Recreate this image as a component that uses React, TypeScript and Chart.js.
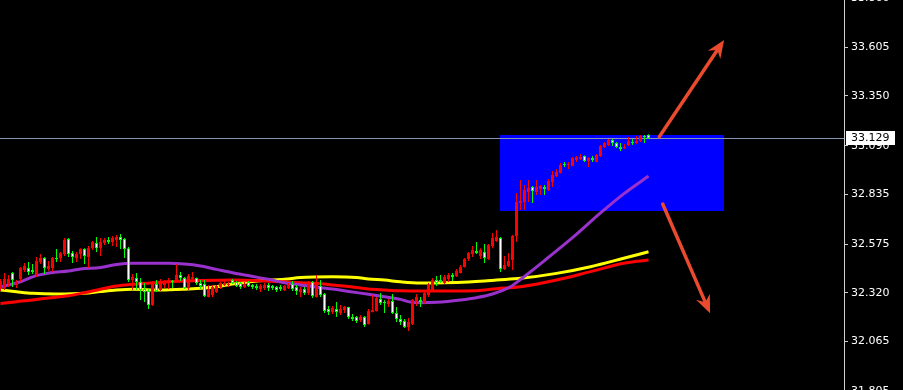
import React, { useEffect, useRef } from "react";
import { Chart, registerables } from "chart.js";

Chart.register(...registerables);

// Bar prices (one entry per bar, oldest first)
const OPEN = [
  32.345, 32.345, 32.366, 32.424, 32.361, 32.393, 32.44, 32.45, 32.44, 32.414,
  32.482, 32.502, 32.445, 32.45, 32.502, 32.502, 32.523, 32.602, 32.528, 32.502,
  32.523, 32.549, 32.508, 32.554, 32.581, 32.554, 32.581, 32.597, 32.586, 32.597,
  32.612, 32.602, 32.554, 32.387, 32.398, 32.377, 32.34, 32.33, 32.257, 32.366,
  32.335, 32.361, 32.372, 32.382, 32.387, 32.414, 32.398, 32.345, 32.393, 32.398,
  32.372, 32.366, 32.299, 32.309, 32.324, 32.351, 32.361, 32.361, 32.387, 32.377,
  32.372, 32.351, 32.377, 32.361, 32.356, 32.34, 32.345, 32.361, 32.356, 32.351,
  32.351, 32.335, 32.345, 32.366, 32.351, 32.324, 32.34, 32.319, 32.377, 32.299,
  32.356, 32.314, 32.236, 32.22, 32.236, 32.215, 32.23, 32.246, 32.194, 32.194,
  32.178, 32.194, 32.157, 32.22, 32.225, 32.288, 32.272, 32.262, 32.278, 32.215,
  32.183, 32.173, 32.141, 32.157, 32.272, 32.283, 32.267, 32.309, 32.335, 32.387,
  32.387, 32.372, 32.393, 32.414, 32.408, 32.424, 32.455, 32.497, 32.523, 32.539,
  32.513, 32.534, 32.497, 32.565, 32.591, 32.607, 32.445, 32.461, 32.492, 32.617,
  32.79, 32.795, 32.848, 32.874, 32.848, 32.863, 32.874, 32.858, 32.9, 32.931,
  32.947, 32.994, 32.989, 32.984, 33.015, 33.02, 33.036, 33.01, 33.026, 33.005,
  33.036, 33.083, 33.093, 33.12, 33.104, 33.083, 33.078, 33.093, 33.109, 33.104,
  33.114, 33.141, 33.146,
];
const HIGH = [
  32.393, 32.424, 32.414, 32.429, 32.387, 32.455, 32.476, 32.482, 32.471, 32.508,
  32.523, 32.508, 32.487, 32.508, 32.549, 32.534, 32.607, 32.607, 32.539, 32.534,
  32.554, 32.554, 32.565, 32.591, 32.612, 32.607, 32.607, 32.612, 32.617, 32.623,
  32.628, 32.607, 32.56, 32.419, 32.424, 32.398, 32.372, 32.34, 32.382, 32.387,
  32.393, 32.387, 32.398, 32.387, 32.471, 32.429, 32.403, 32.419, 32.429, 32.4,
  32.387, 32.387, 32.361, 32.361, 32.361, 32.377, 32.382, 32.377, 32.393, 32.382,
  32.377, 32.377, 32.382, 32.366, 32.366, 32.366, 32.372, 32.372, 32.361, 32.356,
  32.361, 32.361, 32.372, 32.382, 32.361, 32.351, 32.351, 32.382, 32.382, 32.414,
  32.387, 32.319, 32.252, 32.252, 32.272, 32.257, 32.252, 32.248, 32.21, 32.199,
  32.204, 32.199, 32.236, 32.309, 32.299, 32.319, 32.283, 32.288, 32.314, 32.246,
  32.204, 32.183, 32.189, 32.288, 32.314, 32.299, 32.324, 32.372, 32.398, 32.408,
  32.414, 32.414, 32.424, 32.424, 32.445, 32.466, 32.502, 32.534, 32.565, 32.586,
  32.554, 32.576, 32.576, 32.633, 32.649, 32.612, 32.513, 32.528, 32.623, 32.842,
  32.91, 32.884, 32.91, 32.879, 32.91, 32.884, 32.884, 32.916, 32.957, 32.968,
  32.999, 33.005, 33.005, 33.031, 33.036, 33.046, 33.038, 33.028, 33.036, 33.046,
  33.093, 33.109, 33.125, 33.125, 33.109, 33.104, 33.099, 33.135, 33.125, 33.141,
  33.146, 33.146, 33.15,
];
const LOW = [
  32.33, 32.335, 32.351, 32.351, 32.345, 32.377, 32.429, 32.414, 32.419, 32.403,
  32.471, 32.419, 32.435, 32.429, 32.482, 32.482, 32.513, 32.508, 32.476, 32.482,
  32.497, 32.471, 32.45, 32.544, 32.534, 32.513, 32.57, 32.576, 32.565, 32.56,
  32.549, 32.502, 32.377, 32.335, 32.335, 32.283, 32.272, 32.236, 32.252, 32.324,
  32.33, 32.345, 32.34, 32.345, 32.382, 32.382, 32.34, 32.335, 32.377, 32.361,
  32.34, 32.299, 32.296, 32.299, 32.319, 32.34, 32.356, 32.351, 32.366, 32.351,
  32.34, 32.345, 32.351, 32.34, 32.335, 32.324, 32.335, 32.33, 32.335, 32.324,
  32.33, 32.33, 32.34, 32.33, 32.309, 32.299, 32.309, 32.309, 32.293, 32.296,
  32.299, 32.215, 32.204, 32.21, 32.194, 32.204, 32.215, 32.183, 32.173, 32.162,
  32.168, 32.141, 32.155, 32.218, 32.222, 32.257, 32.215, 32.246, 32.21, 32.168,
  32.152, 32.136, 32.12, 32.152, 32.252, 32.246, 32.265, 32.299, 32.33, 32.356,
  32.372, 32.366, 32.377, 32.382, 32.403, 32.422, 32.453, 32.487, 32.508, 32.523,
  32.497, 32.476, 32.492, 32.554, 32.586, 32.429, 32.44, 32.455, 32.44, 32.586,
  32.753, 32.753, 32.795, 32.79, 32.832, 32.832, 32.832, 32.853, 32.874, 32.926,
  32.945, 32.978, 32.968, 32.982, 33.005, 33.015, 33.005, 32.978, 33.005, 33.003,
  33.031, 33.078, 33.088, 33.088, 33.078, 33.062, 33.073, 33.088, 33.093, 33.099,
  33.109, 33.104, 33.125,
];
const CLOSE = [
  32.382, 32.393, 32.393, 32.387, 32.377, 32.45, 32.461, 32.429, 32.429, 32.487,
  32.502, 32.45, 32.461, 32.502, 32.497, 32.528, 32.597, 32.523, 32.508, 32.523,
  32.549, 32.513, 32.554, 32.586, 32.554, 32.586, 32.597, 32.586, 32.607, 32.612,
  32.597, 32.549, 32.387, 32.403, 32.377, 32.335, 32.324, 32.257, 32.372, 32.33,
  32.372, 32.372, 32.387, 32.377, 32.414, 32.398, 32.345, 32.408, 32.403, 32.372,
  32.356, 32.304, 32.34, 32.351, 32.356, 32.372, 32.372, 32.366, 32.372, 32.356,
  32.351, 32.366, 32.356, 32.351, 32.345, 32.356, 32.361, 32.345, 32.345, 32.335,
  32.34, 32.356, 32.361, 32.34, 32.33, 32.34, 32.319, 32.377, 32.304, 32.372,
  32.309, 32.225, 32.22, 32.241, 32.22, 32.236, 32.246, 32.194, 32.183, 32.173,
  32.194, 32.152, 32.225, 32.23, 32.293, 32.267, 32.266, 32.278, 32.215, 32.183,
  32.168, 32.141, 32.168, 32.283, 32.299, 32.272, 32.319, 32.361, 32.387, 32.372,
  32.377, 32.403, 32.414, 32.403, 32.435, 32.455, 32.497, 32.528, 32.544, 32.528,
  32.544, 32.502, 32.57, 32.607, 32.612, 32.445, 32.466, 32.487, 32.617, 32.795,
  32.801, 32.858, 32.869, 32.853, 32.874, 32.879, 32.863, 32.905, 32.937, 32.952,
  32.989, 32.989, 32.994, 33.026, 33.031, 33.031, 33.01, 33.026, 33.015, 33.041,
  33.088, 33.104, 33.12, 33.104, 33.083, 33.073, 33.083, 33.114, 33.104, 33.114,
  33.141, 33.135, 33.129,
];

// Moving averages, sampled at bar positions
const PURPLE_MA_X = [
  0, 5, 8, 12.5, 17, 20, 25, 29, 33, 42, 46, 50, 54, 58, 62.5, 67, 71, 75, 83,
  87.5, 92, 96, 100, 102.5, 105, 109, 115, 119, 123, 127.5, 130, 136.7, 143.3,
  150, 155.8, 162,
];
const PURPLE_MA = [
  32.352, 32.378, 32.404, 32.425, 32.434, 32.445, 32.453, 32.469, 32.475, 32.475,
  32.471, 32.461, 32.443, 32.425, 32.408, 32.391, 32.373, 32.361, 32.34, 32.326,
  32.313, 32.3, 32.286, 32.272, 32.269, 32.271, 32.283, 32.295, 32.314, 32.352,
  32.39, 32.501, 32.614, 32.738, 32.838, 32.931,
];
const YELLOW_MA_X = [
  0, 4, 8, 14, 21, 25, 29, 33, 40, 46, 50, 54, 58, 65, 71, 75, 83, 89, 92, 96,
  100, 105, 111, 117, 121, 124, 130, 139, 147.5, 155.8, 162,
];
const YELLOW_MA = [
  32.335, 32.326, 32.318, 32.314, 32.318, 32.327, 32.335, 32.339, 32.335, 32.339,
  32.344, 32.352, 32.366, 32.384, 32.391, 32.401, 32.405, 32.401, 32.393, 32.387,
  32.378, 32.372, 32.373, 32.377, 32.382, 32.387, 32.396, 32.422, 32.457, 32.501,
  32.535,
];
const RED_MA_X = [
  0, 4, 8, 12.5, 17, 21, 25, 29, 33, 37.5, 42, 46, 50, 58, 65, 71, 75, 79, 83,
  87.5, 92, 96, 100, 105, 111, 119, 124, 130, 139, 147.5, 155.8, 162,
];
const RED_MA = [
  32.265, 32.274, 32.283, 32.295, 32.305, 32.321, 32.339, 32.356, 32.365, 32.372,
  32.378, 32.382, 32.385, 32.387, 32.384, 32.378, 32.373, 32.37, 32.361, 32.352,
  32.34, 32.335, 32.331, 32.33, 32.33, 32.331, 32.342, 32.352, 32.387, 32.431,
  32.475, 32.492,
];

const PRICE_TICKS = [33.86, 33.605, 33.35, 33.09, 32.835, 32.575, 32.32, 32.065, 31.805];
const PRICE_MIN = 31.812;
const PRICE_MAX = 33.852;
const SLOT_MIN = -0.125;
const SLOT_MAX = 210.875;
const LAST_PRICE = 33.129;

// Highlighted range box (bar index span, price span)
const ZONE_FROM = 124.9;
const ZONE_TO = 180.9;
const ZONE_HIGH = 33.146;
const ZONE_LOW = 32.749;

// Scenario arrows: [fromIndex, fromPrice, toIndex, toPrice]
const ARROW_UP = [164.7, 33.137, 180.9, 33.643];
const ARROW_DOWN = [165.55, 32.785, 177.4, 32.213];

const BULL = "#ff0000";
const BEAR_EDGE = "#00ff00";
const BEAR_FILL = "#ffffff";
const FONT = "DejaVu Sans";

const isBull = (i: number) => CLOSE[i] >= OPEN[i];

function drawArrow(ctx: CanvasRenderingContext2D, x0: number, y0: number, x1: number, y1: number) {
  const dx = x1 - x0;
  const dy = y1 - y0;
  const len = Math.hypot(dx, dy);
  const ux = dx / len;
  const uy = dy / len;
  const nx = -uy;
  const ny = ux;
  const headLen = 18;
  const headHalf = 7.5;
  const notch = 12;
  ctx.strokeStyle = "#ea4a2e";
  ctx.fillStyle = "#ea4a2e";
  ctx.lineWidth = 3.5;
  ctx.lineCap = "round";
  ctx.beginPath();
  ctx.moveTo(x0, y0);
  ctx.lineTo(x1 - ux * (notch + 1), y1 - uy * (notch + 1));
  ctx.stroke();
  ctx.beginPath();
  ctx.moveTo(x1, y1);
  ctx.lineTo(x1 - ux * headLen + nx * headHalf, y1 - uy * headLen + ny * headHalf);
  ctx.lineTo(x1 - ux * notch, y1 - uy * notch);
  ctx.lineTo(x1 - ux * headLen - nx * headHalf, y1 - uy * headLen - ny * headHalf);
  ctx.closePath();
  ctx.fill();
}

const overlayPlugin = {
  id: "overlay",
  beforeDatasetsDraw(chart: any) {
    const { ctx, chartArea: a, scales } = chart;
    const xs = scales.x;
    const ys = scales.y;
    ctx.save();
    ctx.beginPath();
    ctx.rect(a.left, a.top, a.right - a.left, a.bottom - a.top);
    ctx.clip();
    const zx0 = Math.round(xs.getPixelForValue(ZONE_FROM));
    const zx1 = Math.round(xs.getPixelForValue(ZONE_TO));
    const zy0 = Math.round(ys.getPixelForValue(ZONE_HIGH));
    const zy1 = Math.round(ys.getPixelForValue(ZONE_LOW));
    ctx.fillStyle = "#0000ff";
    ctx.fillRect(zx0, zy0, zx1 - zx0, zy1 - zy0);
    const py = Math.round(ys.getPixelForValue(LAST_PRICE)) + 0.5;
    ctx.strokeStyle = "#8796b0";
    ctx.lineWidth = 1;
    ctx.beginPath();
    ctx.moveTo(a.left, py);
    ctx.lineTo(a.right, py);
    ctx.stroke();
    ctx.restore();
  },
  afterDatasetsDraw(chart: any) {
    const { ctx, scales } = chart;
    const xs = scales.x;
    const ys = scales.y;
    ctx.save();
    for (const [i0, p0, i1, p1] of [ARROW_UP, ARROW_DOWN]) {
      drawArrow(
        ctx,
        xs.getPixelForValue(i0),
        ys.getPixelForValue(p0),
        xs.getPixelForValue(i1),
        ys.getPixelForValue(p1)
      );
    }
    ctx.restore();
  },
  afterDraw(chart: any) {
    const { ctx, chartArea: a, scales } = chart;
    const py = Math.round(scales.y.getPixelForValue(LAST_PRICE));
    ctx.save();
    ctx.fillStyle = "#ffffff";
    ctx.fillRect(a.right + 2, py - 7, 49, 14);
    ctx.fillStyle = "#000000";
    ctx.font = `11px "${FONT}"`;
    ctx.textBaseline = "middle";
    ctx.textAlign = "left";
    ctx.fillText(LAST_PRICE.toFixed(3), a.right + 7, py + 0.5);
    ctx.restore();
  },
};

export default function App() {
  const canvasRef = useRef<HTMLCanvasElement | null>(null);

  useEffect(() => {
    document.body.style.margin = "0";
    document.body.style.background = "#000";
    const canvas = canvasRef.current;
    if (!canvas) return;

    const bodies = OPEN.map((o, i) => ({ x: i, y: [o, CLOSE[i]] }));
    const wicks = OPEN.map((_, i) => ({ x: i, y: [LOW[i], HIGH[i]] }));
    const line = (xs: number[], ys: number[]) => xs.map((x, i) => ({ x, y: ys[i] }));

    const chart = new Chart(canvas, {
      type: "bar",
      data: {
        datasets: [
          {
            type: "bar",
            label: "body",
            data: bodies as any,
            grouped: false,
            barThickness: 3,
            minBarLength: 1,
            inflateAmount: 0,
            borderSkipped: false,
            backgroundColor: (c: any) => (isBull(c.dataIndex) ? BULL : BEAR_FILL),
            borderColor: (c: any) => (isBull(c.dataIndex) ? BULL : BEAR_EDGE),
            borderWidth: (c: any) => (isBull(c.dataIndex) ? 0 : 1),
            order: 0,
          } as any,
          {
            type: "bar",
            label: "wick",
            data: wicks as any,
            grouped: false,
            barThickness: 1,
            minBarLength: 1,
            inflateAmount: 0,
            borderWidth: 0,
            backgroundColor: (c: any) => (isBull(c.dataIndex) ? BULL : BEAR_EDGE),
            order: 1,
          } as any,
          {
            type: "line",
            label: "MA fast",
            data: line(PURPLE_MA_X, PURPLE_MA) as any,
            borderColor: "#9932cc",
            borderWidth: 3,
            pointRadius: 0,
            cubicInterpolationMode: "monotone",
            order: 2,
          } as any,
          {
            type: "line",
            label: "MA slow",
            data: line(RED_MA_X, RED_MA) as any,
            borderColor: "#ff0000",
            borderWidth: 3,
            pointRadius: 0,
            cubicInterpolationMode: "monotone",
            order: 3,
          } as any,
          {
            type: "line",
            label: "MA mid",
            data: line(YELLOW_MA_X, YELLOW_MA) as any,
            borderColor: "#ffff00",
            borderWidth: 3,
            pointRadius: 0,
            cubicInterpolationMode: "monotone",
            order: 4,
          } as any,
        ],
      },
      options: {
        responsive: false,
        animation: false,
        events: [],
        layout: { padding: 0 },
        plugins: {
          legend: { display: false },
          tooltip: { enabled: false },
        },
        scales: {
          x: {
            type: "linear",
            min: SLOT_MIN,
            max: SLOT_MAX,
            offset: false,
            display: false,
          },
          y: {
            type: "linear",
            position: "right",
            min: PRICE_MIN,
            max: PRICE_MAX,
            afterBuildTicks: (s: any) => {
              s.ticks = PRICE_TICKS.map((v) => ({ value: v }));
            },
            afterFit: (s: any) => {
              s.width = 59;
              s.paddingTop = 0;
              s.paddingBottom = 0;
            },
            border: { display: true, color: "#d0d0d0", width: 1 },
            grid: {
              drawOnChartArea: false,
              drawTicks: true,
              tickLength: 4,
              color: "#d0d0d0",
            },
            ticks: {
              autoSkip: false,
              padding: 3,
              color: "#ffffff",
              font: { family: FONT, size: 11 },
              callback: (v: any) => Number(v).toFixed(3),
            },
          },
        },
      } as any,
      plugins: [overlayPlugin as any],
    });

    return () => chart.destroy();
  }, []);

  return (
    <div style={{ width: 903, height: 390, background: "#000" }}>
      <canvas ref={canvasRef} width={903} height={390} style={{ display: "block" }} />
    </div>
  );
}
